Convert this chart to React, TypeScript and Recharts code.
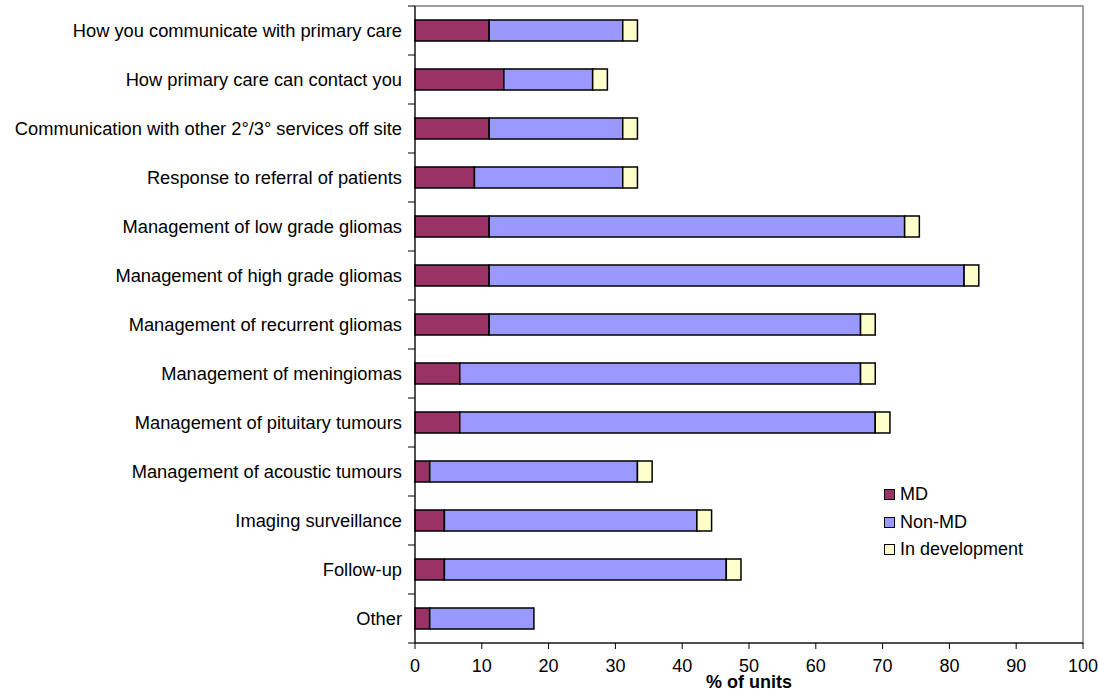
import { Bar, BarChart, Legend, ReferenceArea, XAxis, YAxis } from "recharts";

const categories = [
  "How you communicate with primary care",
  "How primary care can contact you",
  "Communication with other 2°/3° services off site",
  "Response to referral of patients",
  "Management of low grade gliomas",
  "Management of high grade gliomas",
  "Management of recurrent gliomas",
  "Management of meningiomas",
  "Management of pituitary tumours",
  "Management of acoustic tumours",
  "Imaging surveillance",
  "Follow-up",
  "Other",
];
const md = [11.1, 13.3, 11.1, 8.9, 11.1, 11.1, 11.1, 6.7, 6.7, 2.2, 4.4, 4.4, 2.2];
const nonMd = [20, 13.3, 20, 22.2, 62.2, 71.1, 55.6, 60, 62.2, 31.1, 37.8, 42.2, 15.6];
const inDev = [2.2, 2.2, 2.2, 2.2, 2.2, 2.2, 2.2, 2.2, 2.2, 2.2, 2.2, 2.2, 0];
const xTicks = [0, 10, 20, 30, 40, 50, 60, 70, 80, 90, 100];

const data = categories.map((name, i) => ({ name, md: md[i], nonMd: nonMd[i], inDev: inDev[i] }));

const FONT = "'Liberation Sans', Arial, sans-serif";
const TOP = 6;
const PLOT_H = 637;
const band = PLOT_H / categories.length;

const legendItems = [
  { label: "MD", color: "#993366" },
  { label: "Non-MD", color: "#9999FF" },
  { label: "In development", color: "#FFFFCC" },
];

function YTick(props: any) {
  const { x, y, payload } = props;
  return (
    <g>
      <line x1={x + 1} x2={x + 8} y1={y - band / 2} y2={y - band / 2} stroke="#000" />
      {payload.index === categories.length - 1 && (
        <line x1={x + 1} x2={x + 8} y1={y + band / 2} y2={y + band / 2} stroke="#000" />
      )}
      <text x={x - 5} y={y} dy={6} textAnchor="end" fontSize={18.3} fill="#000" fontFamily={FONT}>
        {payload.value}
      </text>
    </g>
  );
}

function LegendBox() {
  return (
    <div style={{ fontFamily: FONT, fontSize: 18, color: "#000" }}>
      {legendItems.map((it) => (
        <div key={it.label} style={{ display: "flex", alignItems: "center", height: 27.5 }}>
          <span
            style={{
              width: 9,
              height: 9,
              background: it.color,
              border: "1px solid #000",
              marginRight: 5,
            }}
          />
          {it.label}
        </div>
      ))}
    </div>
  );
}

export default function App() {
  return (
    <div style={{ position: "absolute", left: 0, top: 0, background: "#fff" }}>
      <BarChart
        width={1098}
        height={691}
        data={data}
        layout="vertical"
        margin={{ top: TOP, right: 15, left: 0, bottom: 18 }}
        barSize={21}
      >
        <ReferenceArea x1={0} x2={100} stroke="#808080" fill="none" strokeWidth={1.5} ifOverflow="visible" />
        <XAxis
          type="number"
          domain={[0, 100]}
          ticks={xTicks}
          interval={0}
          height={30}
          axisLine={{ stroke: "#000" }}
          tickLine={{ stroke: "#000" }}
          tickSize={6}
          tickMargin={10}
          tick={{ fill: "#000", fontSize: 18, fontFamily: FONT }}
          label={{
            value: "% of units",
            position: "insideBottom",
            offset: -15,
            fill: "#000",
            fontSize: 18,
            fontWeight: "bold",
            fontFamily: FONT,
          }}
        />
        <YAxis
          type="category"
          dataKey="name"
          width={415}
          interval={0}
          axisLine={{ stroke: "#000" }}
          tickLine={false}
          tick={<YTick />}
        />
        <Legend
          layout="horizontal"
          verticalAlign="middle"
          align="center"
          wrapperStyle={{ left: 884, top: 481, width: 200 }}
          content={() => <LegendBox />}
        />
        <Bar dataKey="md" name="MD" stackId="a" fill="#993366" stroke="#000" strokeWidth={1.5} isAnimationActive={false} />
        <Bar dataKey="nonMd" name="Non-MD" stackId="a" fill="#9999FF" stroke="#000" strokeWidth={1.5} isAnimationActive={false} />
        <Bar dataKey="inDev" name="In development" stackId="a" fill="#FFFFCC" stroke="#000" strokeWidth={1.5} isAnimationActive={false} />
      </BarChart>
    </div>
  );
}
